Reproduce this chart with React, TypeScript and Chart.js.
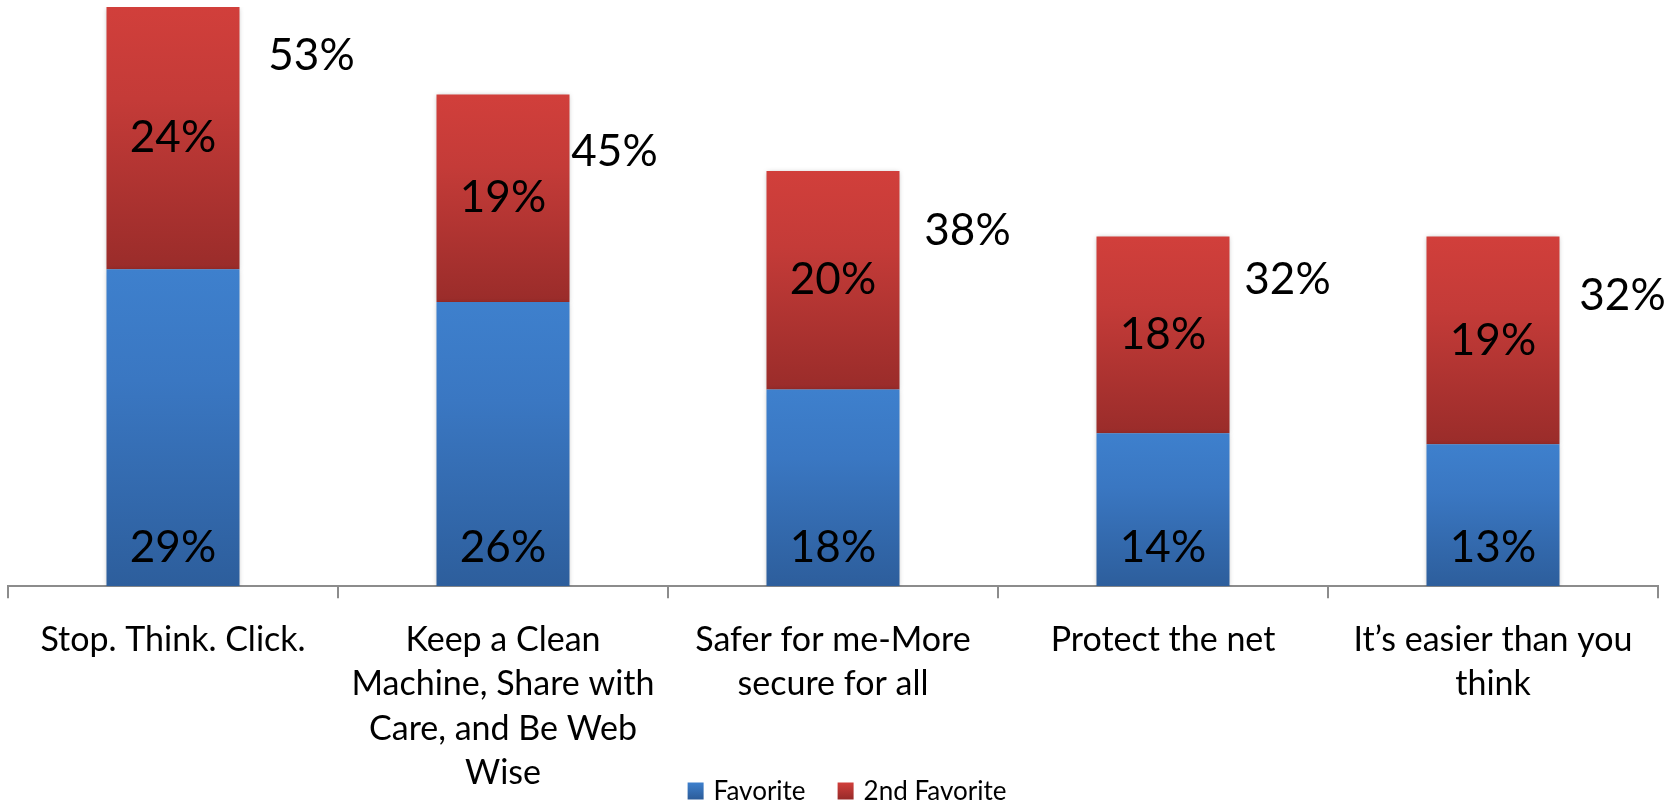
import React, { useEffect, useRef } from "react";
import { Chart, registerables } from "chart.js";

Chart.register(...registerables);

const categories: (string | string[])[] = [
  "Stop. Think. Click.",
  ["Keep a Clean", "Machine, Share with", "Care, and Be Web", "Wise"],
  ["Safer for me-More", "secure for all"],
  "Protect the net",
  ["It\u2019s easier than you", "think"],
];
const favorite = [29, 26, 18, 14, 13];
const secondFavorite = [24, 19, 20, 18, 19];
const totals = [53, 45, 38, 32, 32];
const seriesNames = ["Favorite", "2nd Favorite"];

// label nudges (style): total label offset from bar's right edge / from bar top
const totalDx = [72, 45, 68, 58, 63];
const totalDy = [49, 57, 60, 43, 59];

const FONT = "Lato, 'Open Sans', sans-serif";
const BLUE = ["#3e80cd", "#3a77c2", "#2d5e9c"];
const RED = ["#d13f3b", "#c43b38", "#9a2c2a"];
const PAGE_H = 804;
const CANVAS_H = 815;

function segGradient(ctx: any, stops: string[]) {
  const chart = ctx.chart;
  const y = chart.scales && chart.scales.y;
  if (!y || !chart.chartArea || ctx.type !== "data") return stops[0];
  const i = ctx.dataIndex;
  const ds = ctx.datasetIndex;
  let base = 0;
  for (let d = 0; d < ds; d++) base += chart.data.datasets[d].data[i];
  const top = base + chart.data.datasets[ds].data[i];
  const y0 = y.getPixelForValue(top);
  const y1 = y.getPixelForValue(base);
  if (!isFinite(y0) || !isFinite(y1)) return stops[0];
  const g = chart.ctx.createLinearGradient(0, y0, 0, y1);
  g.addColorStop(0, stops[0]);
  g.addColorStop(0.35, stops[1]);
  g.addColorStop(1, stops[2]);
  return g;
}

const labelPlugin = {
  id: "customLabels",
  beforeDatasetsDraw(chart: any) {
    const c = chart.ctx;
    c.save();
    c.shadowColor = "rgba(0,0,0,0.3)";
    c.shadowBlur = 5;
    c.shadowOffsetX = 0;
    c.shadowOffsetY = 1;
  },
  afterDatasetsDraw(chart: any) {
    const c = chart.ctx;
    c.restore();
    c.save();
    c.font = `44px ${FONT}`;
    c.fillStyle = "#000";
    c.textAlign = "center";
    c.textBaseline = "middle";
    const m0 = chart.getDatasetMeta(0);
    const m1 = chart.getDatasetMeta(1);
    const ys = chart.scales.y;
    m0.data.forEach((bar: any, i: number) => {
      c.fillText(`${favorite[i]}%`, bar.x, bar.base - 38);
    });
    m1.data.forEach((bar: any, i: number) => {
      c.fillText(`${secondFavorite[i]}%`, bar.x, (bar.y + bar.base) / 2);
      const yt = ys.getPixelForValue(totals[i]);
      c.fillText(`${totals[i]}%`, bar.x + bar.width / 2 + totalDx[i], yt + totalDy[i]);
    });
    c.restore();
  },
  afterDraw(chart: any) {
    const c = chart.ctx;
    c.save();
    c.font = `26px ${FONT}`;
    c.textBaseline = "middle";
    c.textAlign = "left";
    const box = 16;
    const gapText = 10;
    const gapItem = 32;
    const w = seriesNames.map((n) => c.measureText(n).width);
    const total = box + gapText + w[0] + gapItem + box + gapText + w[1];
    const area = chart.chartArea;
    let x = (area.left + area.right) / 2 + 14 - total / 2;
    const yc = PAGE_H - 13.5;
    const cols = [BLUE, RED];
    seriesNames.forEach((n, k) => {
      const g = c.createLinearGradient(0, yc - box / 2, 0, yc + box / 2);
      g.addColorStop(0, cols[k][0]);
      g.addColorStop(1, cols[k][2]);
      c.fillStyle = g;
      c.fillRect(x, yc - box / 2, box, box + 1);
      x += box + gapText;
      c.fillStyle = "#000";
      c.fillText(n, x, yc + 1);
      x += w[k] + gapItem;
    });
    c.restore();
  },
};

export default function App() {
  const ref = useRef<HTMLCanvasElement | null>(null);
  useEffect(() => {
    if (!ref.current) return;
    const chart = new Chart(ref.current, {
      type: "bar",
      data: {
        labels: categories as any,
        datasets: [
          {
            label: seriesNames[0],
            data: favorite,
            backgroundColor: (ctx: any) => segGradient(ctx, BLUE),
            borderWidth: 0,
            barPercentage: 0.403,
            categoryPercentage: 1,
          },
          {
            label: seriesNames[1],
            data: secondFavorite,
            backgroundColor: (ctx: any) => segGradient(ctx, RED),
            borderWidth: 0,
            barPercentage: 0.403,
            categoryPercentage: 1,
          },
        ],
      },
      options: {
        responsive: false,
        animation: false,
        layout: { padding: { top: 7, left: 8, right: 20, bottom: 0 } },
        plugins: {
          legend: { display: false },
          tooltip: { enabled: false },
        },
        scales: {
          x: {
            stacked: true,
            grid: {
              display: true,
              drawOnChartArea: false,
              drawTicks: true,
              tickLength: 12,
              color: "#8c8c8c",
              lineWidth: 2,
              offset: true,
            },
            border: { display: true, color: "#8c8c8c", width: 2 },
            ticks: {
              color: "#000",
              font: { family: FONT, size: 34, lineHeight: 1.3 },
              padding: 20,
              maxRotation: 0,
              autoSkip: false,
            },
          },
          y: { stacked: true, display: false, min: 0, max: 53 },
        },
      },
      plugins: [labelPlugin],
    });
    return () => chart.destroy();
  }, []);
  return (
    <div
      style={{
        position: "fixed",
        left: 0,
        top: 0,
        width: 1678,
        height: PAGE_H,
        overflow: "hidden",
        background: "#fff",
      }}
    >
      <canvas ref={ref} width={1678} height={CANVAS_H} style={{ display: "block" }} />
    </div>
  );
}
